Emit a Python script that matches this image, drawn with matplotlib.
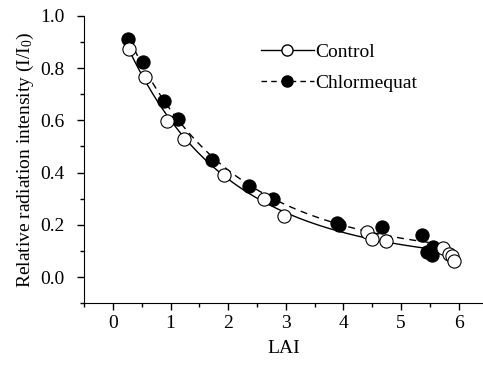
import numpy as np
import matplotlib
matplotlib.use("Agg")
import matplotlib.pyplot as plt
from matplotlib.ticker import MultipleLocator

plt.rcParams['font.family'] = ['Liberation Serif', 'DejaVu Serif']
plt.rcParams['mathtext.fontset'] = 'custom'
plt.rcParams['mathtext.rm'] = 'Liberation Serif'
plt.rcParams['mathtext.it'] = 'Liberation Serif:italic'

# data
lai_control = [0.28, 0.55, 0.94, 1.23, 1.92, 2.63, 2.96, 4.40, 4.50, 4.74, 5.72, 5.83, 5.88, 5.91]
rad_control = [0.872, 0.767, 0.598, 0.530, 0.390, 0.299, 0.235, 0.172, 0.147, 0.139, 0.112, 0.090, 0.080, 0.061]

lai_chlor = [0.27, 0.52, 0.88, 1.13, 1.72, 2.36, 2.78, 3.88, 3.93, 4.67, 5.36, 5.56, 5.45, 5.53]
rad_chlor = [0.910, 0.824, 0.672, 0.606, 0.448, 0.349, 0.299, 0.208, 0.200, 0.192, 0.160, 0.115, 0.096, 0.086]

fit_range = [0.28, 5.6]


def curve_fit(x, y):
    # quadratic in log space, weighted so it behaves like a fit on y
    x = np.array(x)
    y = np.array(y)
    c = np.polyfit(x, np.log(y), 2, w=y)
    xs = np.linspace(fit_range[0], fit_range[1], 200)
    return xs, np.exp(np.polyval(c, xs))


fig = plt.figure(figsize=(4.83, 3.67), dpi=100)
ax = fig.add_axes([0.174, 0.174, 0.826, 0.783])

xs, ys = curve_fit(lai_control, rad_control)
ax.plot(xs, ys, color='black', lw=1.0, ls='-')
xs, ys = curve_fit(lai_chlor, rad_chlor)
ax.plot(xs, ys, color='black', lw=1.0, ls=(0, (5, 4)))

ax.plot(lai_chlor, rad_chlor, 'o', color='black', ms=9.5, mec='black', mew=0.8)
ax.plot(lai_control, rad_control, 'o', color='white', ms=9.5, mec='black', mew=0.8)

# legend handles
h1, = ax.plot([], [], color='black', lw=1.0, ls='-', marker='o', mfc='white', mec='black', ms=8)
h2, = ax.plot([], [], color='black', lw=1.0, ls=(0, (4, 3)), marker='o', mfc='black', mec='black', ms=8)
ax.legend([h1, h2], ['Control', 'Chlormequat'], loc='upper left', bbox_to_anchor=(0.40, 0.965),
          frameon=False, fontsize=14, handlelength=2.7, handletextpad=0.1, labelspacing=0.68)

ax.set_xlim(-0.5, 6.42)
ax.set_ylim(-0.1, 1.0)
ax.xaxis.set_major_locator(MultipleLocator(1))
ax.xaxis.set_minor_locator(MultipleLocator(0.5))
ax.yaxis.set_major_locator(MultipleLocator(0.2))
ax.yaxis.set_minor_locator(MultipleLocator(0.1))
ax.yaxis.set_major_formatter(matplotlib.ticker.FormatStrFormatter('%.1f'))
ax.tick_params(which='major', direction='out', length=5, width=1, labelsize=14)
ax.tick_params(which='minor', direction='out', length=3, width=1)
ax.tick_params(axis='y', which='major', pad=9)
ax.spines['top'].set_visible(False)
ax.spines['right'].set_visible(False)

ax.set_xlabel('LAI', fontsize=14, labelpad=6)
ax.set_ylabel(r'Relative radiation intensity (I/I$_0$)', fontsize=14, labelpad=3)

fig.savefig('out.png', dpi=100)
